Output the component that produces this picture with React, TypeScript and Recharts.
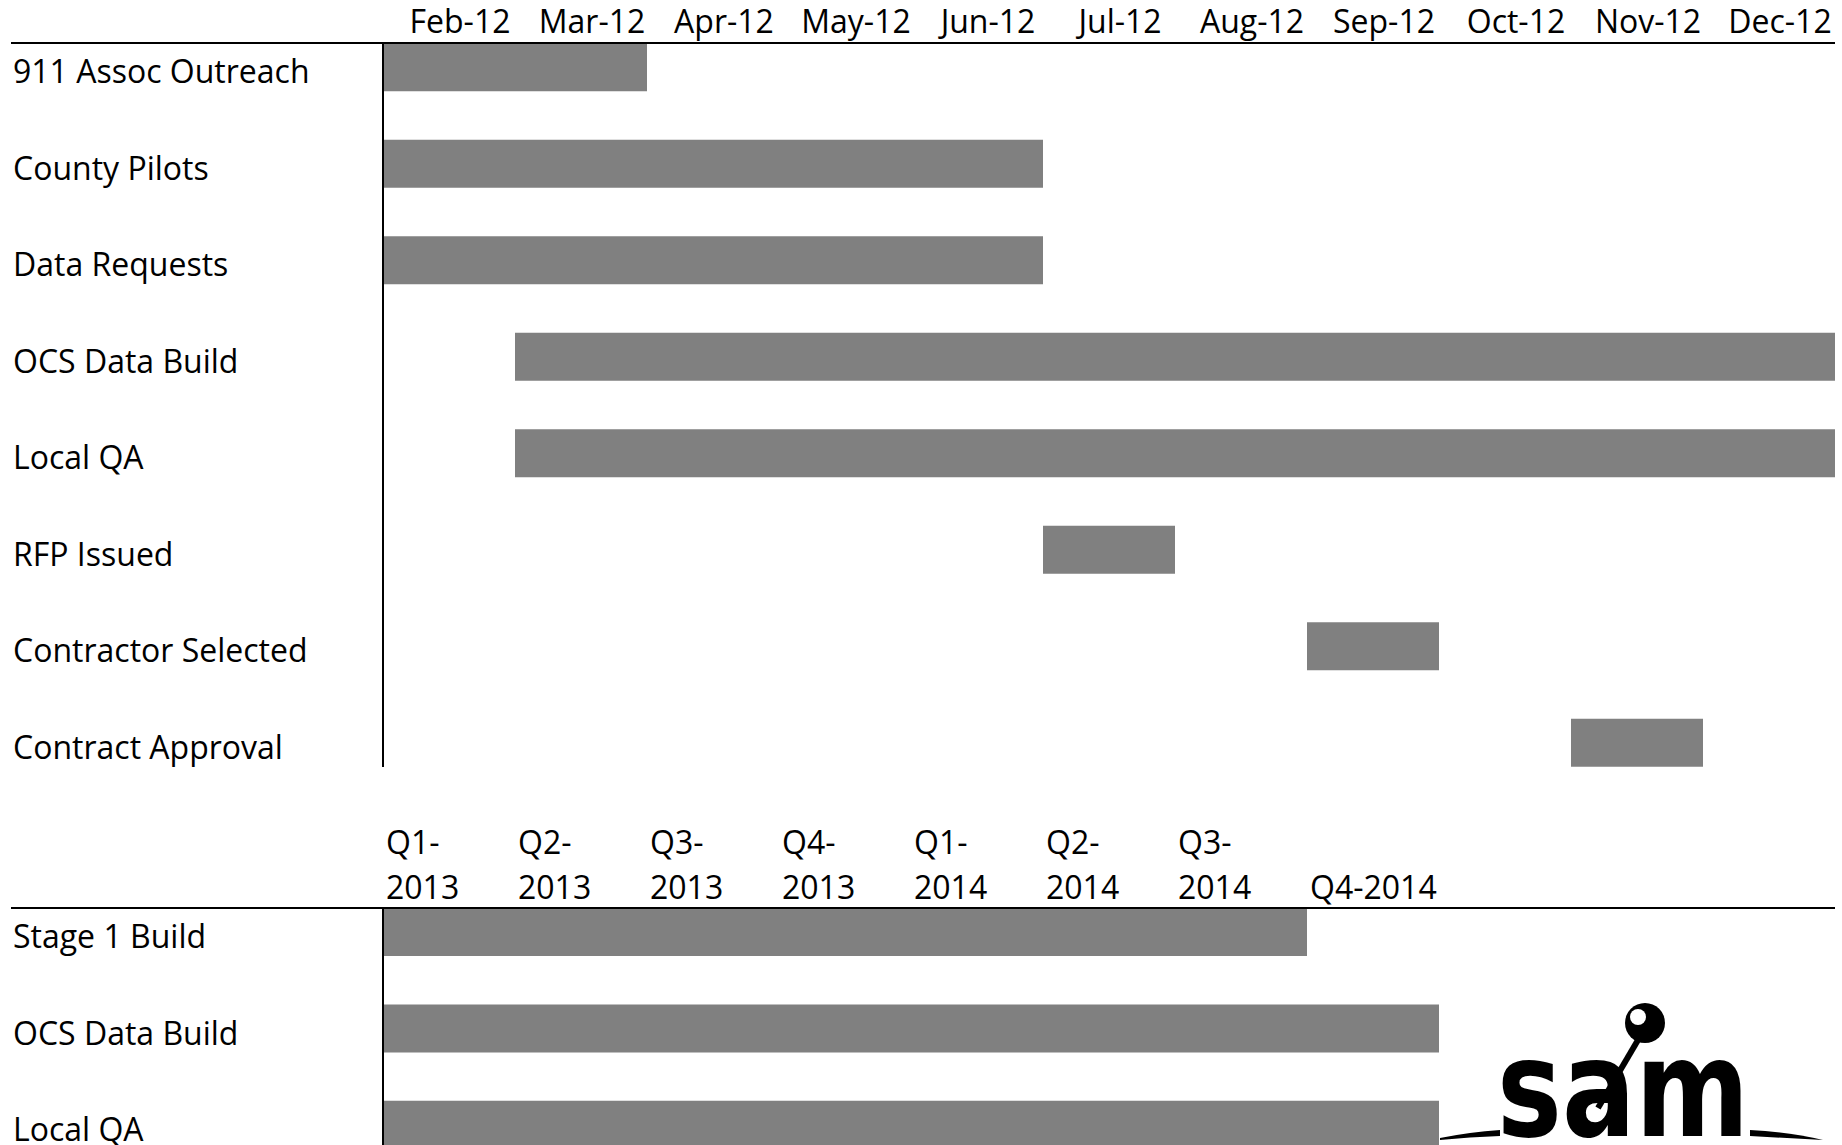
import { Bar, BarChart, ReferenceLine, XAxis, YAxis } from "recharts";

const months = ["Feb-12", "Mar-12", "Apr-12", "May-12", "Jun-12", "Jul-12", "Aug-12", "Sep-12", "Oct-12", "Nov-12", "Dec-12"];
const monthTicks = [0.5, 1.5, 2.5, 3.5, 4.5, 5.5, 6.5, 7.5, 8.5, 9.5, 10.5];

const tasks2012 = ["911 Assoc Outreach", "County Pilots", "Data Requests", "OCS Data Build", "Local QA", "RFP Issued", "Contractor Selected", "Contract Approval"];
const start2012 = [0, 0, 0, 1, 1, 5, 7, 9];
const end2012 = [2, 5, 5, 11, 11, 6, 8, 10];

const quarters = ["Q1-2013", "Q2-2013", "Q3-2013", "Q4-2013", "Q1-2014", "Q2-2014", "Q3-2014", "Q4-2014"];
const quarterTicks = [0, 1, 2, 3, 4, 5, 6, 7];

const tasks2013 = ["Stage 1 Build", "OCS Data Build", "Local QA"];
const start2013 = [0, 0, 0];
const end2013 = [7, 8, 8];

// gantt trick: invisible offset bar stacked under the visible duration bar
const topData = tasks2012.map((task, i) => ({ task, offset: start2012[i], duration: end2012[i] - start2012[i] }));
const bottomData = tasks2013.map((task, i) => ({ task, offset: start2013[i], duration: end2013[i] - start2013[i] }));

const FONT = "'Open Sans', sans-serif";
const TEXT_SIZE = 32;
const BAR = "#808080";
const ROW = 96.45; // height of one task row
const INSET = ROW / 4; // bar takes half the row, so the axis starts a quarter row in

function TaskTick({ y, payload }: any) {
  return (
    <text x={13} y={y + 16} fontFamily={FONT} fontSize={TEXT_SIZE} fill="#000">
      {payload.value}
    </text>
  );
}

function MonthTick({ x, payload }: any) {
  return (
    <text x={x + 11} y={33} textAnchor="middle" fontFamily={FONT} fontSize={TEXT_SIZE} fill="#000">
      {months[monthTicks.indexOf(payload.value)]}
    </text>
  );
}

function QuarterTick({ x, payload }: any) {
  const label = quarters[payload.value];
  const last = payload.value === quarters.length - 1;
  const parts = last ? ["", label] : [label.slice(0, 3), label.slice(3)];
  return (
    <text x={x + 3} fontFamily={FONT} fontSize={TEXT_SIZE} fill="#000">
      <tspan x={x + 3} y={54}>{parts[0]}</tspan>
      <tspan x={x + 3} y={99}>{parts[1]}</tspan>
    </text>
  );
}

function AxisLine(props: any) {
  const top = Math.min(props.y1, props.y2) + INSET;
  const bottom = Math.max(props.y1, props.y2) - INSET;
  return <line x1={props.x1} x2={props.x2} y1={top} y2={bottom} stroke="#000" strokeWidth={2} />;
}

function Rule({ top }: { top: number }) {
  return <div style={{ position: "absolute", left: 11, top, width: 1824, height: 2, background: "#000" }} />;
}

function SamLogo() {
  return (
    <svg style={{ position: "absolute", left: 1420, top: 990 }} width={422} height={155}>
      <path d="M20 148 Q50 142 80 140 L80 146 Q50 147 20 150 Z" fill="#000" />
      <path d="M330 140 Q370 142 403 150 L330 146 Z" fill="#000" />
      <text
        x={77}
        y={146}
        fontFamily="'DejaVu Sans', sans-serif"
        fontWeight="bold"
        fontSize={136}
        textLength={252}
        lengthAdjust="spacingAndGlyphs"
        fill="#000"
      >
        sam
      </text>
      <line x1={218} y1={50} x2={178} y2={118} stroke="#000" strokeWidth={6} />
      <circle cx={225} cy={33} r={20} fill="#000" />
      <circle cx={218} cy={27} r={8} fill="#fff" />
    </svg>
  );
}

export default function App() {
  return (
    <div style={{ position: "absolute", left: 0, top: 0, width: 1842, height: 1145, background: "#fff", overflow: "hidden" }}>
      <BarChart
        width={1842}
        height={791}
        data={topData}
        layout="vertical"
        margin={{ top: 0, right: 7, bottom: 0, left: 0 }}
        barCategoryGap="25%"
      >
        <XAxis
          type="number"
          orientation="top"
          domain={[0, 11]}
          ticks={monthTicks}
          height={19}
          axisLine={false}
          tickLine={false}
          tick={<MonthTick />}
        />
        <YAxis
          type="category"
          dataKey="task"
          width={383}
          axisLine={false}
          tickLine={false}
          tick={<TaskTick />}
          interval={0}
        />
        <Bar dataKey="offset" stackId="g" fill="transparent" isAnimationActive={false} />
        <Bar dataKey="duration" stackId="g" fill={BAR} isAnimationActive={false} />
        <ReferenceLine x={0} shape={<AxisLine />} />
      </BarChart>
      <div style={{ position: "absolute", left: 0, top: 800 }}>
        <BarChart
          width={1842}
          height={373}
          data={bottomData}
          layout="vertical"
          margin={{ top: 0, right: 7, bottom: 0, left: 0 }}
          barCategoryGap="25%"
        >
          <XAxis
            type="number"
            orientation="top"
            domain={[0, 11]}
            ticks={quarterTicks}
            height={84}
            axisLine={false}
            tickLine={false}
            tick={<QuarterTick />}
          />
          <YAxis
            type="category"
            dataKey="task"
            width={383}
            axisLine={false}
            tickLine={false}
            tick={<TaskTick />}
            interval={0}
          />
          <Bar dataKey="offset" stackId="g" fill="transparent" isAnimationActive={false} />
          <Bar dataKey="duration" stackId="g" fill={BAR} isAnimationActive={false} />
          <ReferenceLine x={0} shape={<AxisLine />} />
        </BarChart>
      </div>
      <Rule top={42} />
      <Rule top={907} />
      <SamLogo />
    </div>
  );
}
